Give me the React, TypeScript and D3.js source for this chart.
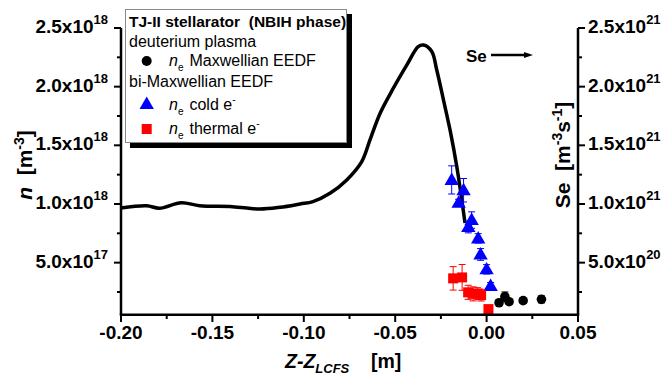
import React from "react";
import * as d3 from "d3";

// Se curve (right axis, units of 1e21 m^-3 s^-1)
const seX = [-0.2, -0.186, -0.179, -0.167, -0.157, -0.139, -0.124, -0.113, -0.102, -0.095, -0.0857, -0.0765, -0.0683, -0.0638, -0.0583, -0.051, -0.0437, -0.0374, -0.0345, -0.03, -0.0273, -0.0236, -0.02, -0.0163, -0.0118];
const seY = [0.966, 0.985, 0.964, 1.011, 0.985, 0.977, 0.957, 0.972, 1.0, 1.02, 1.091, 1.205, 1.361, 1.546, 1.772, 1.987, 2.183, 2.341, 2.355, 2.3, 2.144, 1.887, 1.631, 1.318, 0.838];

// n_e Maxwellian EEDF (units 1e18 m^-3)
const maxX = [0.0068, 0.01, 0.0123, 0.02, 0.03];
const maxY = [0.158, 0.21, 0.167, 0.176, 0.187];
const maxErr = [0.02, 0.04, 0.02, 0.02, 0.03];

// n_e cold e- (bi-Maxwellian)
const coldX = [-0.0191, -0.0126, -0.0153, -0.0082, -0.01, -0.0046, -0.0033, 0.0, 0.0022];
const coldY = [1.205, 1.117, 1.01, 0.863, 0.804, 0.707, 0.57, 0.443, 0.301];
const coldErr = [0.12, 0.1, 0.03, 0.07, 0.05, 0.04, 0.05, 0.04, 0.03];

// n_e thermal e- (bi-Maxwellian)
const thermX = [-0.0183, -0.0134, -0.0101, -0.0074, -0.005, -0.003, 0.001];
const thermY = [0.366, 0.374, 0.247, 0.234, 0.237, 0.223, 0.104];
const thermErr = [0.1, 0.11, 0.06, 0.06, 0.05, 0.05, 0.0];

const xTicks = [-0.2, -0.15, -0.1, -0.05, 0.0, 0.05];
const xTickLabels = ["-0.20", "-0.15", "-0.10", "-0.05", "0.00", "0.05"];
const xMinor = [-0.175, -0.125, -0.075, -0.025, 0.025];
const yTicks = [0.5, 1.0, 1.5, 2.0, 2.5];
const yMinor = [0.25, 0.75, 1.25, 1.75, 2.25];
const leftMant = ["5.0", "1.0", "1.5", "2.0", "2.5"];
const leftExp = ["17", "18", "18", "18", "18"];
const rightMant = ["5.0", "1.0", "1.5", "2.0", "2.5"];
const rightExp = ["20", "21", "21", "21", "21"];

const FONT = "'Liberation Sans', Arial, sans-serif";

export default function App() {
  const yMin = 0.0563;
  const x = d3.scaleLinear().domain([-0.2, 0.05]).range([121, 578]);
  const y = d3.scaleLinear().domain([yMin, 2.5]).range([314.7, 28]);
  const yR = d3.scaleLinear().domain([yMin, 2.5]).range([314.7, 28]);

  const line = d3
    .line<number>()
    .x((_, i) => x(seX[i]))
    .y((d) => yR(d))
    .curve(d3.curveCatmullRom.alpha(0.5));

  const errBar = (cx: number, cy: number, e: number, color: string, key: string) => {
    if (e <= 0) return null;
    const y1 = y(cy + e);
    const y2 = y(cy - e);
    const px = x(cx);
    return (
      <g key={key} stroke={color} strokeWidth={1}>
        <line x1={px} x2={px} y1={y1} y2={y2} />
        <line x1={px - 3.5} x2={px + 3.5} y1={y1} y2={y1} />
        <line x1={px - 3.5} x2={px + 3.5} y1={y2} y2={y2} />
      </g>
    );
  };

  const tri = (px: number, py: number, s: number) =>
    `M${px},${py - s * 0.62} L${px + s * 0.6},${py + s * 0.42} L${px - s * 0.6},${py + s * 0.42} Z`;

  const axisW = 2.5;
  const TF = 19;
  const SF = 13;
  const yBot = 314.7;

  return (
    <svg width={664} height={378} style={{ position: "absolute", left: 0, top: 0, background: "#fff" }} fontFamily={FONT}>
      <rect width={664} height={378} fill="#fff" />

      {/* Se curve */}
      <path d={line(seY) || ""} fill="none" stroke="#000" strokeWidth={3.5} strokeLinejoin="round" />

      {/* error bars */}
      {coldX.map((cx, i) => errBar(cx, coldY[i], coldErr[i], "#0000ff", "ce" + i))}
      {thermX.map((cx, i) => errBar(cx, thermY[i], thermErr[i], "#ff0000", "te" + i))}
      {maxX.map((cx, i) => errBar(cx, maxY[i], maxErr[i], "#000", "me" + i))}

      {/* markers */}
      {coldX.map((cx, i) => (
        <path key={"c" + i} d={tri(x(cx), y(coldY[i]), 12)} fill="#0000ff" />
      ))}
      {thermX.map((cx, i) => (
        <rect key={"t" + i} x={x(cx) - 5} y={y(thermY[i]) - 5} width={10} height={10} fill="#ff0000" />
      ))}
      {maxX.map((cx, i) => (
        <circle key={"m" + i} cx={x(cx)} cy={y(maxY[i])} r={4.8} fill="#000" />
      ))}

      {/* axes */}
      <line x1={121} x2={121} y1={y(2.5)} y2={yBot} stroke="#000" strokeWidth={axisW} />
      <line x1={578} x2={578} y1={y(2.5)} y2={yBot} stroke="#000" strokeWidth={axisW} />
      <line x1={121 - 1.25} x2={578 + 1.25} y1={yBot} y2={yBot} stroke="#000" strokeWidth={axisW} />

      {xTicks.map((t, i) => (
        <g key={"xt" + i}>
          <line x1={x(t)} x2={x(t)} y1={yBot} y2={yBot + 7.3} stroke="#000" strokeWidth={2} />
          <text x={x(t)} y={339} textAnchor="middle" fontSize={TF} fontWeight="bold">
            {xTickLabels[i]}
          </text>
        </g>
      ))}
      {xMinor.map((t, i) => (
        <line key={"xm" + i} x1={x(t)} x2={x(t)} y1={yBot} y2={yBot + 4.3} stroke="#000" strokeWidth={2} />
      ))}

      {yTicks.map((t, i) => (
        <g key={"yt" + i}>
          <line x1={114} x2={121} y1={y(t)} y2={y(t)} stroke="#000" strokeWidth={2} />
          <text x={108} y={y(t) + 5} textAnchor="end" fontSize={TF} fontWeight="bold">
            {leftMant[i]}x10
            <tspan dy={-9} fontSize={SF}>
              {leftExp[i]}
            </tspan>
          </text>
          <line x1={578} x2={585} y1={yR(t)} y2={yR(t)} stroke="#000" strokeWidth={2} />
          <text x={588} y={yR(t) + 5} textAnchor="start" fontSize={TF} fontWeight="bold">
            {rightMant[i]}x10
            <tspan dy={-9} fontSize={SF}>
              {rightExp[i]}
            </tspan>
          </text>
        </g>
      ))}
      {yMinor.map((t, i) => (
        <g key={"ym" + i}>
          <line x1={117} x2={121} y1={y(t)} y2={y(t)} stroke="#000" strokeWidth={2} />
          <line x1={578} x2={582} y1={yR(t)} y2={yR(t)} stroke="#000" strokeWidth={2} />
        </g>
      ))}

      {/* axis titles */}
      <text transform="translate(32,165) rotate(-90)" textAnchor="middle" fontSize={21} fontWeight="bold" style={{ whiteSpace: "pre" }}>
        <tspan fontStyle="italic">n</tspan>
        <tspan>{"  [m"}</tspan>
        <tspan dy={-8} fontSize={14}>-3</tspan>
        <tspan dy={8}>]</tspan>
      </text>
      <text transform="translate(570,155) rotate(-90)" textAnchor="middle" fontSize={21} fontWeight="bold" style={{ whiteSpace: "pre" }}>
        <tspan>{"Se  [m"}</tspan>
        <tspan dy={-8} fontSize={14}>-3</tspan>
        <tspan dy={8}>s</tspan>
        <tspan dy={-8} fontSize={14}>-1</tspan>
        <tspan dy={8}>]</tspan>
      </text>
      <text x={285} y={368} fontSize={19.5} fontWeight="bold" style={{ whiteSpace: "pre" }}>
        <tspan fontStyle="italic">Z-Z</tspan>
        <tspan fontStyle="italic" fontSize={13} dy={5}>LCFS</tspan>
        <tspan dy={-5}>{"    [m]"}</tspan>
      </text>

      {/* Se arrow annotation */}
      <text x={466} y={62} fontSize={17} fontWeight="bold">Se</text>
      <line x1={491} x2={526} y1={55} y2={55} stroke="#000" strokeWidth={2.5} />
      <path d="M524,52 L533,55 L524,58 Z" fill="#000" />

      {/* legend */}
      <rect x={130} y={14} width={222} height={134} fill="#000" />
      <rect x={125.5} y={9.5} width={221} height={133} fill="#fff" stroke="#888" strokeWidth={1} />
      <text x={129} y={27} fontSize={15.5} fontWeight="bold" style={{ whiteSpace: "pre" }}>TJ-II stellarator  (NBIH phase)</text>
      <text x={129} y={47} fontSize={16}>deuterium plasma</text>
      <circle cx={146.7} cy={61} r={5} fill="#000" />
      <text x={169} y={66} fontSize={16}>
        <tspan fontStyle="italic">n</tspan>
        <tspan fontSize={10} dy={5}>e</tspan>
        <tspan dy={-5} dx={6}>Maxwellian EEDF</tspan>
      </text>
      <text x={129} y={87} fontSize={16}>bi-Maxwellian EEDF</text>
      <path d={tri(146.7, 104, 12)} fill="#0000ff" />
      <text x={169} y={110} fontSize={16}>
        <tspan fontStyle="italic">n</tspan>
        <tspan fontSize={10} dy={5}>e</tspan>
        <tspan dy={-5} dx={6}>cold e</tspan>
        <tspan fontSize={10} dy={-7}>-</tspan>
      </text>
      <rect x={141.7} y={124} width={10} height={10} fill="#ff0000" />
      <text x={169} y={134} fontSize={16}>
        <tspan fontStyle="italic">n</tspan>
        <tspan fontSize={10} dy={5}>e</tspan>
        <tspan dy={-5} dx={6}>thermal e</tspan>
        <tspan fontSize={10} dy={-7}>-</tspan>
      </text>
    </svg>
  );
}
